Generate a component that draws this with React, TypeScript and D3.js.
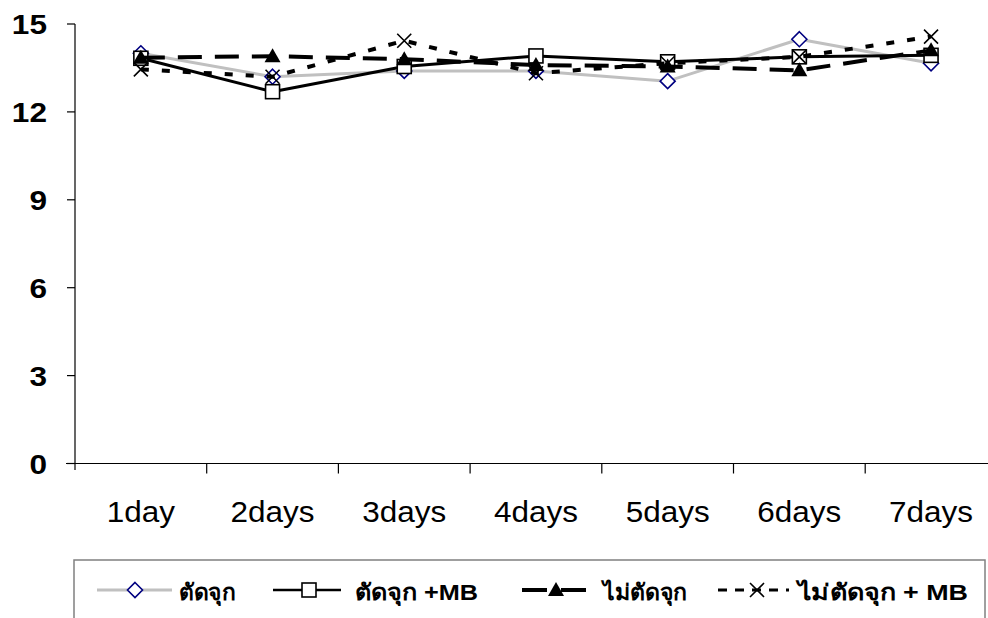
import React from "react";
import * as d3 from "d3";

const categories = ["1day", "2days", "3days", "4days", "5days", "6days", "7days"];
const yTicks = [0, 3, 6, 9, 12, 15];
const seriesNames = ["ตัดจุก", "ตัดจุก +MB", "ไม่ตัดจุก", "ไม่ตัดจุก + MB"];
const cutValues = [14.0, 13.2, 13.4, 13.4, 13.05, 14.48, 13.66];
const cutMbValues = [13.83, 12.69, 13.55, 13.91, 13.71, 13.88, 13.93];
const noCutValues = [13.85, 13.9, 13.8, 13.6, 13.55, 13.42, 14.1];
const noCutMbValues = [13.45, 13.2, 14.43, 13.32, 13.66, 13.88, 14.57];

const W = 988;
const H = 618;
const FONT = "'Liberation Sans', Arial, 'Noto Sans', sans-serif";

const x = d3.scaleBand<string>().domain(categories).range([75, 75 + 7 * 131.7]);
const y = d3.scaleLinear().domain([0, 15]).range([463.5, 24]);
const cx = (c: string) => (x(c) as number) + x.bandwidth() / 2;

type Style = { stroke: string; width: number; dash?: string; marker: string };
const styles: Style[] = [
  { stroke: "#C0C0C0", width: 3, marker: "diamond" },
  { stroke: "#000000", width: 3, marker: "square" },
  { stroke: "#000000", width: 4, dash: "24 13", marker: "triangle" },
  { stroke: "#000000", width: 4, dash: "8 13", marker: "x" },
];
const allValues = [cutValues, cutMbValues, noCutValues, noCutMbValues];

function Marker({ kind, px, py }: { kind: string; px: number; py: number }) {
  if (kind === "diamond") {
    const r = 7.5;
    return (
      <path
        d={`M${px},${py - r}L${px + r},${py}L${px},${py + r}L${px - r},${py}Z`}
        fill="#fff"
        stroke="#000080"
        strokeWidth={1.6}
      />
    );
  }
  if (kind === "square") {
    const r = 7;
    return <rect x={px - r} y={py - r} width={2 * r} height={2 * r} fill="#fff" stroke="#000" strokeWidth={1.6} />;
  }
  if (kind === "triangle") {
    return <path d={`M${px},${py - 8}L${px + 8},${py + 6}L${px - 8},${py + 6}Z`} fill="#000" />;
  }
  const r = 7;
  return (
    <path
      d={`M${px - r},${py - r}L${px + r},${py + r}M${px + r},${py - r}L${px - r},${py + r}`}
      stroke="#000"
      strokeWidth={1.6}
      fill="none"
    />
  );
}

export default function App() {
  const line = d3
    .line<number>()
    .x((_, i) => cx(categories[i]))
    .y((d) => y(d));

  const legendItems = [
    { lx1: 97, lx2: 172, mx: 135, tx: 179, tw: 56, lw: 3, dash: undefined as string | undefined },
    { lx1: 273, lx2: 341, mx: 309, tx: 355, tw: 123, lw: 2.5, dash: undefined },
    { lx1: 522, lx2: 586, mx: 556, tx: 603, tw: 84, lw: 4, dash: "25 14" },
    { lx1: 718, lx2: 789, mx: 757, tx: 798, tw: 170, lw: 3, dash: "9 8" },
  ];
  const legendY = 590;

  return (
    <svg
      width={W}
      height={H}
      style={{ position: "absolute", left: 0, top: 0, background: "#fff" }}
      fontFamily={FONT}
    >
      <rect x={0} y={0} width={W} height={H} fill="#fff" />
      {/* axes */}
      <line x1={75} x2={75} y1={y(15)} y2={470} stroke="#000" strokeWidth={1.2} />
      <line x1={66} x2={W} y1={y(0)} y2={y(0)} stroke="#000" strokeWidth={1.2} />
      {yTicks.map((t) => (
        <g key={t}>
          <line x1={67} x2={75} y1={y(t)} y2={y(t)} stroke="#000" strokeWidth={1.2} />
          <text
            transform={`translate(47,${y(t) + 10}) scale(1.17,1)`}
            textAnchor="end"
            fontWeight="bold"
            fontSize={27}
          >
            {t}
          </text>
        </g>
      ))}
      {categories.map((c, i) => (
        <g key={c}>
          {i > 0 && <line x1={x(c)} x2={x(c)} y1={y(0)} y2={y(0) + 10} stroke="#000" strokeWidth={1.2} />}
          <text transform={`translate(${cx(c)},522) scale(1.05,1)`} textAnchor="middle" fontSize={30}>
            {c}
          </text>
        </g>
      ))}
      {/* series */}
      {allValues.map((vals, si) => {
        const st = styles[si];
        return (
          <g key={si}>
            <path
              d={line(vals) || ""}
              fill="none"
              stroke={st.stroke}
              strokeWidth={st.width}
              strokeDasharray={st.dash}
              strokeLinejoin="round"
            />
            {vals.map((v, i) => (
              <Marker key={i} kind={st.marker} px={cx(categories[i])} py={y(v)} />
            ))}
          </g>
        );
      })}
      {/* legend */}
      <rect x={74} y={560} width={911} height={80} fill="none" stroke="#808080" strokeWidth={1.5} />
      {legendItems.map((it, si) => {
        const st = styles[si];
        return (
          <g key={si}>
            <line
              x1={it.lx1}
              x2={it.lx2}
              y1={legendY}
              y2={legendY}
              stroke={st.stroke}
              strokeWidth={it.lw}
              strokeDasharray={it.dash}
            />
            <Marker kind={st.marker} px={it.mx} py={legendY} />
            <text
              x={it.tx}
              y={600}
              fontWeight="bold"
              fontSize={22}
              textLength={it.tw}
              lengthAdjust="spacingAndGlyphs"
            >
              {seriesNames[si]}
            </text>
          </g>
        );
      })}
    </svg>
  );
}
